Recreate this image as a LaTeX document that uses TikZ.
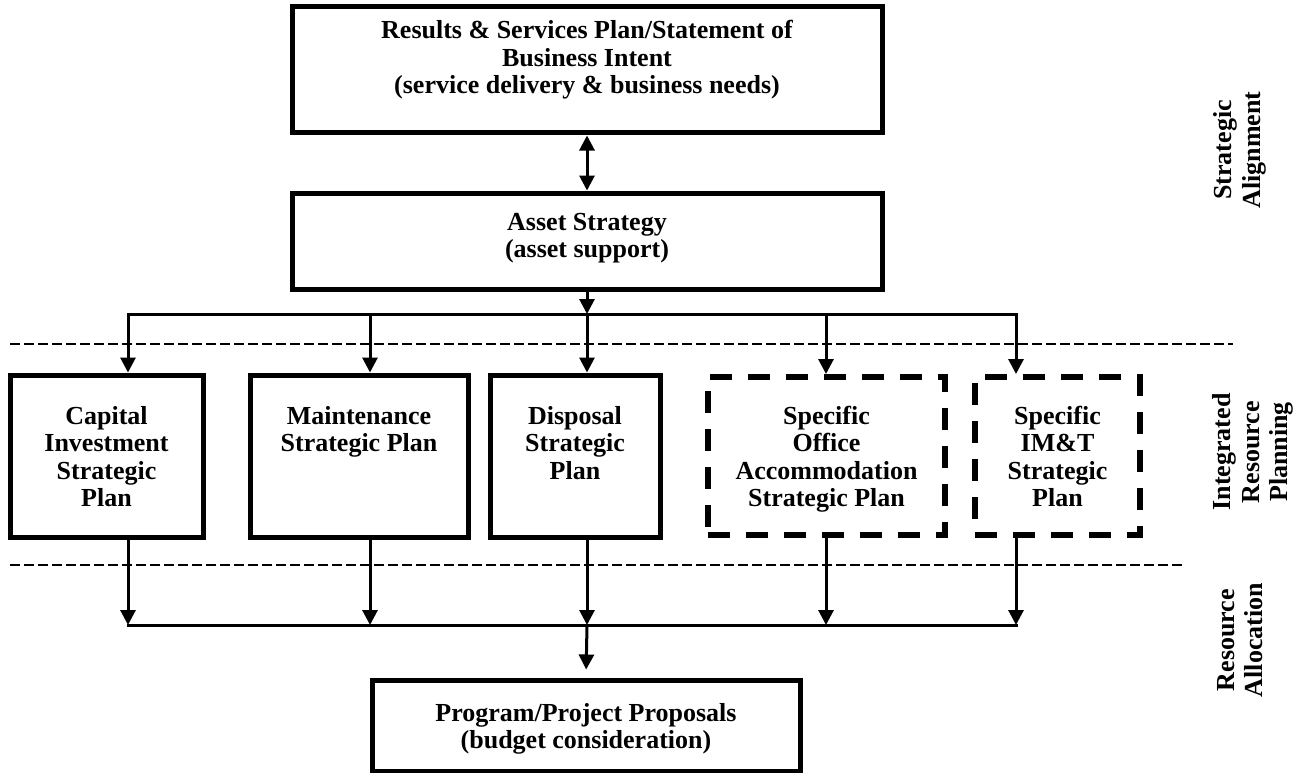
\documentclass[tikz,border=0pt]{standalone}
\usepackage{fontspec}
\setmainfont{Liberation Serif}
\usetikzlibrary{arrows.meta}
\begin{document}
\begin{tikzpicture}[x=1pt,y=-1pt,
  box/.style={draw, line width=5pt, rectangle, inner sep=0pt},
  dbox/.style={draw, line width=6pt, dash pattern=on 22pt off 16pt, rectangle, inner sep=0pt},
  lbl/.style={font=\fontsize{26}{27.5}\selectfont\bfseries, align=center, inner sep=0pt, anchor=north},
  conn/.style={line width=3pt, -{Triangle[width=15pt,length=15pt]}},
  bus/.style={line width=3pt, line cap=rect},
  sep/.style={line width=2.5pt, dash pattern=on 10pt off 4pt},
  side/.style={font=\fontsize{26}{28.5}\selectfont\bfseries, align=center, rotate=90, inner sep=0pt}]
\useasboundingbox (0,0) rectangle (1311,773);

% boxes
\node[box, minimum width=590pt, minimum height=126pt] (top) at (587,70) {};
\node[lbl] (toptxt) at ([yshift=-15.5pt]top.north) {Results \& Services Plan/Statement of\\Business Intent\\(service delivery \& business needs)};

\node[box, minimum width=590pt, minimum height=96pt] (asset) at (587,241) {};
\node[lbl] (assettxt) at ([yshift=-22.5pt]asset.north) {Asset Strategy\\(asset support)};

\node[box, minimum width=193pt, minimum height=162pt] (cap) at (106.5,456) {};
\node[lbl] (captxt) at ([yshift=-33.5pt]cap.north) {Capital\\Investment\\Strategic\\Plan};

\node[box, minimum width=218pt, minimum height=162pt] (mnt) at (359,456) {};
\node[lbl] (mnttxt) at ([yshift=-33.5pt]mnt.north) {Maintenance\\Strategic Plan};

\node[box, minimum width=170pt, minimum height=162pt] (dsp) at (575,456) {};
\node[lbl] (dsptxt) at ([yshift=-33.5pt]dsp.north) {Disposal\\Strategic\\Plan};

\node[dbox, minimum width=237pt, minimum height=158pt] (off) at (826.5,456) {};
\node[lbl] (offtxt) at ([yshift=-31.5pt]off.north) {Specific\\Office\\Accommodation\\Strategic Plan};

\node[dbox, minimum width=165pt, minimum height=158pt] (imt) at (1057.5,456) {};
\node[lbl] (imttxt) at ([yshift=-31.5pt]imt.north) {Specific\\IM\&T\\Strategic\\Plan};

\node[box, minimum width=428pt, minimum height=91pt] (bot) at (586,725.5) {};
\node[lbl] (bottxt) at ([yshift=-25.5pt]bot.north) {Program/Project Proposals\\(budget consideration)};

% side labels
\node[side] (sa) at (1240,150) {Strategic\\Alignment};
\node[side] (irp) at (1253,452) {Integrated\\Resource\\Planning};
\node[side] (ra) at (1240,640) {Resource\\Allocation};

% separators
\coordinate (s1a) at (10,344);
\coordinate (s1b) at (1233,344);
\coordinate (s2a) at (10,565);
\coordinate (s2b) at (1185,565);
\draw[sep] (s1a) -- (s1b);
\draw[sep] (s2a) -- (s2b);

% bus coordinates
\coordinate (u1) at (128,314);
\coordinate (u2) at (370,314);
\coordinate (u3) at (587,314);
\coordinate (u4) at (826,314);
\coordinate (u5) at (1016,314);
\coordinate (l1) at (128,625);
\coordinate (l2) at (370,625);
\coordinate (l3) at (587,625);
\coordinate (l4) at (826,625);
\coordinate (l5) at (1016,625);

% connectors
\draw[line width=3pt, {Triangle[width=15pt,length=15pt]}-{Triangle[width=15pt,length=15pt]}] (top.south) -- (asset.north);
\draw[conn] (asset.south) -- (u3);
\draw[bus] (u1) -- (u5);
\draw[conn] (u1) -- (u1 |- cap.north);
\draw[conn] (u2) -- (u2 |- mnt.north);
\draw[conn] (u3) -- (u3 |- dsp.north);
\draw[conn] (u4) -- (u4 |- off.north);
\draw[conn] (u5) -- (u5 |- imt.north);

\draw[conn] (l1 |- cap.south) -- (l1);
\draw[conn] (l2 |- mnt.south) -- (l2);
\draw[conn] (l3 |- dsp.south) -- (l3);
\draw[conn] (l4 |- off.south) -- (l4);
\draw[conn] (l5 |- imt.south) -- (l5);
\draw[bus] (l1) -- (l5);
\draw[conn, shorten >=8pt] (l3) -- (bot.north);
\end{tikzpicture}
\end{document}
